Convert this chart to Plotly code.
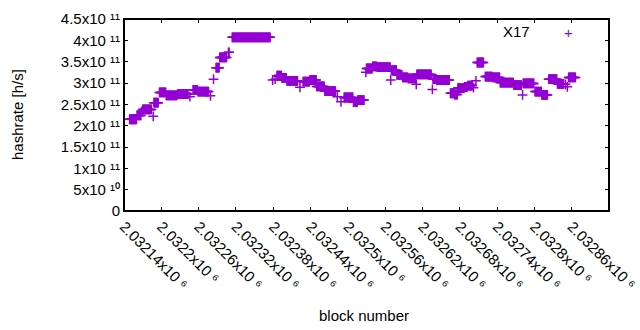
import plotly.graph_objects as go

# ---- data: runs of consecutive blocks sharing the same hashrate ----
seg_start = [2032149, 2032161, 2032168, 2032170, 2032187, 2032188, 2032197, 2032208, 2032226,
             2032246, 2032251, 2032259, 2032279, 2032284, 2032288, 2032294, 2032308, 2032314,
             2032379, 2032383, 2032386, 2032394, 2032402, 2032423, 2032428, 2032439, 2032450,
             2032463, 2032483, 2032489, 2032494, 2032509, 2032516, 2032529, 2032530, 2032540,
             2032547, 2032569, 2032570, 2032579, 2032588, 2032597, 2032610, 2032611, 2032636,
             2032637, 2032643, 2032665, 2032672, 2032677, 2032688, 2032693, 2032702, 2032706,
             2032708, 2032721, 2032733, 2032745, 2032767, 2032781, 2032782, 2032801, 2032812,
             2032823, 2032837, 2032850, 2032853, 2032855]
seg_end = [2032160, 2032167, 2032168, 2032184, 2032187, 2032195, 2032207, 2032225, 2032243,
           2032246, 2032258, 2032276, 2032279, 2032284, 2032293, 2032305, 2032309, 2032375,
           2032379, 2032383, 2032393, 2032401, 2032419, 2032423, 2032438, 2032449, 2032462,
           2032480, 2032483, 2032489, 2032508, 2032515, 2032526, 2032529, 2032539, 2032546,
           2032568, 2032569, 2032578, 2032587, 2032596, 2032609, 2032610, 2032634, 2032636,
           2032642, 2032663, 2032671, 2032676, 2032687, 2032692, 2032700, 2032702, 2032706,
           2032718, 2032732, 2032744, 2032766, 2032779, 2032781, 2032799, 2032811, 2032821,
           2032836, 2032847, 2032850, 2032853, 2032866]
seg_rate = [2.15, 2.24, 2.33, 2.38, 2.22, 2.54, 2.78, 2.71, 2.74,
            2.68, 2.84, 2.80, 2.70, 3.09, 3.36, 3.60, 3.72, 4.07,
            3.07, 3.09, 3.17, 3.12, 3.05, 2.90, 3.03, 3.07, 2.92,
            2.81, 2.68, 2.56, 2.66, 2.55, 2.60, 3.25, 3.34, 3.39,
            3.37, 3.07, 3.30, 3.19, 3.13, 3.11, 2.97, 3.20, 2.85,
            3.09, 3.07, 2.76, 2.73, 2.88, 2.91, 2.94, 2.89, 3.05,
            3.48, 3.15, 3.13, 3.01, 2.95, 2.72, 2.99, 2.80, 2.72,
            3.09, 2.98, 2.97, 2.91, 3.13]  # x 1e11 h/s

x_tick_vals = [2032140, 2032200, 2032260, 2032320, 2032380, 2032440, 2032500,
               2032560, 2032620, 2032680, 2032740, 2032800, 2032860, 2032920]
x_tick_text = ["2.03214x10 \u2076", "2.0322x10 \u2076", "2.03226x10 \u2076", "2.03232x10 \u2076",
               "2.03238x10 \u2076", "2.03244x10 \u2076", "2.0325x10 \u2076", "2.03256x10 \u2076",
               "2.03262x10 \u2076", "2.03268x10 \u2076", "2.03274x10 \u2076", "2.0328x10 \u2076",
               "2.03286x10 \u2076", "2.03292x10 \u2076"]

y_tick_vals = [0, 5e10, 1e11, 1.5e11, 2e11, 2.5e11, 3e11, 3.5e11, 4e11, 4.5e11]
y_tick_text = ["0", "5x10 \u00b9\u2070", "1x10 \u00b9\u00b9", "1.5x10 \u00b9\u00b9",
               "2x10 \u00b9\u00b9", "2.5x10 \u00b9\u00b9", "3x10 \u00b9\u00b9",
               "3.5x10 \u00b9\u00b9", "4x10 \u00b9\u00b9", "4.5x10 \u00b9\u00b9"]

series_name = "X17"
COLOR = "#9400D3"
FONT = "Liberation Sans, Arial, sans-serif"

# expand runs: one point per block
blocks, rates = [], []
for s, e, v in zip(seg_start, seg_end, seg_rate):
    for b in range(s, e + 1):
        blocks.append(b)
        rates.append(v * 1e11)

fig = go.Figure()
fig.add_trace(go.Scatter(
    x=blocks, y=rates, mode="markers", name=series_name,
    marker=dict(symbol="cross-thin", size=7, color=COLOR,
                line=dict(color=COLOR, width=1.5)),
    showlegend=False,
))

axis_common = dict(showline=True, linecolor="black", linewidth=1, mirror="ticks",
                   ticks="inside", ticklen=4, tickcolor="black", tickwidth=1,
                   showgrid=False, zeroline=False, automargin=False,
                   tickfont=dict(family=FONT, size=15, color="black"))

fig.update_layout(
    width=640, height=330,
    margin=dict(l=124, r=31, t=19, b=119, autoexpand=False),
    paper_bgcolor="white", plot_bgcolor="white",
    font=dict(family=FONT, size=15, color="black"),
    showlegend=False,
    xaxis=dict(range=[2032140, 2032920], tickmode="array", tickvals=x_tick_vals,
               ticktext=x_tick_text, tickangle=45, **axis_common),
    yaxis=dict(range=[0, 4.5e11], tickmode="array", tickvals=y_tick_vals,
               ticktext=y_tick_text, **axis_common),
    annotations=[
        # frame of the plot area (backup for the axis box)
        dict(text="\u00a0", xref="paper", yref="paper", x=0, y=0,
             xanchor="left", yanchor="bottom", width=483, height=190,
             borderpad=0, borderwidth=1, bordercolor="black", showarrow=False),
        # key: label and sample
        dict(text=series_name, xref="paper", yref="paper", x=0.841, y=0.9375,
             xanchor="right", yanchor="middle", showarrow=False,
             font=dict(family=FONT, size=15, color="black")),
        dict(text="+", xref="paper", yref="paper", x=0.9155, y=0.932,
             xanchor="center", yanchor="middle", showarrow=False,
             font=dict(family=FONT, size=15, color=COLOR)),
        dict(text="hashrate [h/s]", xref="paper", yref="paper", x=-0.2206, y=0.5,
             textangle=-90, showarrow=False, xanchor="center", yanchor="middle",
             font=dict(family=FONT, size=15, color="black")),
        dict(text="block number", xref="paper", yref="paper", x=0.495, y=-0.5417,
             showarrow=False, xanchor="center", yanchor="middle",
             font=dict(family=FONT, size=15, color="black")),
    ],
)

fig.write_html("out.html", config={"displayModeBar": False},
               post_script="document.body.style.margin='0';document.body.style.overflow='hidden';")
